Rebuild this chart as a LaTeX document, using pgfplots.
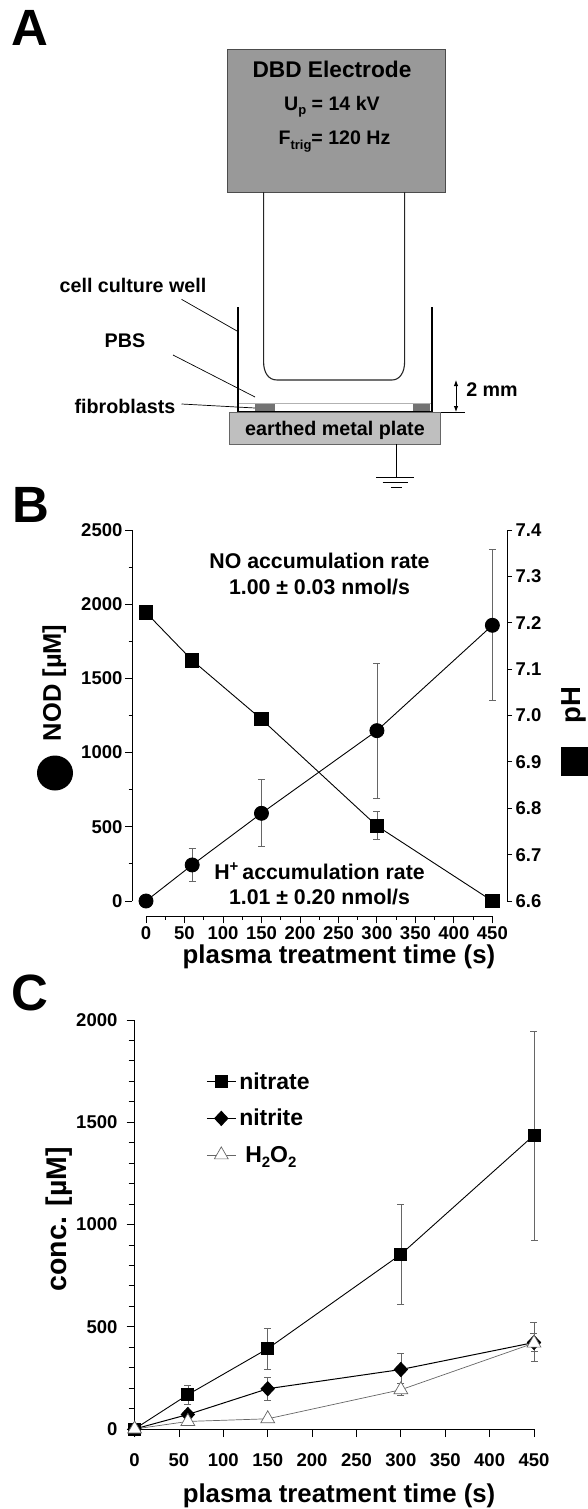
\documentclass[border=0pt]{standalone}
\usepackage{fontspec}
\setmainfont{Liberation Sans}
\usepackage{pgfplots}
\pgfplotsset{compat=1.18}
\usepackage{pgfplotstable}
\usetikzlibrary{arrows.meta}
\newcommand{\fs}[1]{\fontsize{#1}{#1}\selectfont}
\newcommand{\sub}[3][13]{\raisebox{-#2pt}{\fs{#1}#3}}
\pgfplotstableread{
x y ep em
0 0 0 0
60 243 112 113
150 591 229 221
300 1148 454 454
450 1858 512 508
}\nod
\pgfplotstableread{
x y ep em
0 7.222 0 0
60 7.119 0 0
150 6.992 0 0
300 6.762 0.032 0.029
450 6.6 0 0
}\phdata
\pgfplotstableread{
x y ep em
0 0 0 0
60 168 46 47
150 393 99 100
300 854 243 244
450 1437 509 514
}\nitrate
\pgfplotstableread{
x y ep em
0 0 0 0
60 71 20 20
150 197 56 57
300 291 80 69
450 423 99 91
}\nitrite
\pgfplotstableread{
x y ep em
0 0 0 0
60 37 8 8
150 50 12 12
300 192 30 29
450 420 47 38
}\hhoo
\pgfplotsset{
  base/.style={
    scale only axis, clip=false,
    axis line style={draw=none},
    tick align=outside,
    tick style={black,line width=0.9pt},
    /pgf/number format/assume math mode=true,
    /pgf/number format/set thousands separator={},
    tick label style={font=\bfseries\fs{18.5},inner sep=0pt},
  },
  ebar/.style={
    error bars/.cd, y dir=both, y explicit,
    error bar style={black!60,line width=0.7pt},
    error mark options={rotate=90,mark size=3.5pt,black!60,line width=0.7pt},
  },
}
\begin{document}
\begin{tikzpicture}
\path[use as bounding box] (0,0) rectangle (588pt,-1509pt);
\clip (0,0) rectangle (588pt,-1509pt);
%% Panel A
\begin{scope}[x=1pt,y=-1pt]
\node[font=\bfseries\fs{51}] at (29.5,27.5) {A};
\node[font=\bfseries\fs{51}] at (31,504.5) {B};
\node[font=\bfseries\fs{51}] at (30,993) {C};
\draw[fill=black!40,draw=black!70,line width=0.9pt] (227.2,49.7) rectangle (445.8,192);
\draw[line width=1.1pt,black!85] (263.6,192) -- (263.6,362) .. controls (263.6,372) and (268,380) .. (277,380)
  -- (392,380) .. controls (400,380) and (404.6,372) .. (404.6,362) -- (404.6,192);
\draw[black!30,line width=0.8pt] (238,403) -- (431,403);
\fill[black!55] (255,403.5) rectangle (274.5,411);
\fill[black!55] (412.5,403.5) rectangle (430,411);
\draw[line width=0.7pt] (237.7,412) -- (465,412);
\draw[line width=1.5pt] (237.7,411.5) -- (431,411.5);
\draw[line width=1.8pt] (237.7,307) -- (237.7,412);
\draw[line width=1.8pt] (431.6,307) -- (431.6,412);
\draw[fill=black!25,draw=black!60,line width=0.8pt] (229.5,412.7) rectangle (440,444.3);
\draw[line width=0.9pt] (396.4,444.3) -- (396.4,477);
\draw[line width=0.9pt] (376,477.5) -- (413.6,477.5);
\draw[line width=0.9pt] (382.5,482.5) -- (407.6,482.5);
\draw[line width=0.9pt] (391,487.5) -- (402,487.5);
\draw[line width=0.7pt] (181.5,299.3) -- (237,331);
\draw[line width=0.7pt] (173,355) -- (255,397);
\draw[line width=0.7pt] (181.5,404) -- (255,408);
\draw[{Latex[length=6pt]}-{Latex[length=6pt]},line width=0.9pt] (456,380) -- (456,412);
\node[font=\bfseries\fs{22.7}] at (332,69) {DBD Electrode};
\node[font=\bfseries\fs{19.6}] at (332,107) {U\sub{4}{p} = 14 kV};
\node[font=\bfseries\fs{19.6}] at (334.5,142) {F\sub{5}{trig}= 120 Hz};
\node[font=\bfseries\fs{19.7}] at (133,285) {cell culture well};
\node[font=\bfseries\fs{19.7}] at (125,341) {PBS};
\node[font=\bfseries\fs{19.7}] at (125,406) {fibroblasts};
\node[font=\bfseries\fs{19.7}] at (335,430) {earthed metal plate};
\node[font=\bfseries\fs{19.7}] at (492,390) {2 mm};
\fill (55,773) ellipse (18 and 17.5);
\fill (561,747) rectangle (600,776);
\end{scope}
%% Panel B, left axis
\begin{axis}[base,
  at={(132pt,-916pt)},anchor=south west,width=375pt,height=386pt,
  xmin=-18.2,xmax=469,ymin=-101.1,ymax=2500,
  axis x line*=bottom,axis y line*=left,
  xtick={0,50,...,450},ytick={0,500,...,2500},
  minor x tick num=1,minor y tick num=1,
  major tick length=7pt,minor tick length=3.5pt,
  xlabel={plasma treatment time (s)},ylabel={NOD [µM]},
  every axis x label/.style={at={(rel axis cs:0.552,-0.106)},anchor=center,font=\bfseries\fs{25.8}},
  every axis y label/.style={at={(rel axis cs:-0.207,0.604)},anchor=center,rotate=90,font=\bfseries\fs{25.5}},
  xticklabel style={yshift=-3.5pt},
  yticklabel style={xshift=-2.4pt},
]
\draw[line width=1pt] (axis cs:-18.2,0) -- (axis cs:-18.2,2500);
\draw[line width=1pt] (axis cs:0,-101.1) -- (axis cs:450,-101.1);
\addplot[black,line width=0.9pt,mark=*,mark size=7pt,mark options={fill=black},
  ebar] table[x=x,y=y,y error plus=ep,y error minus=em] {\nod};
\end{axis}
%% Panel B, right axis
\begin{axis}[base,
  at={(132pt,-916pt)},anchor=south west,width=375pt,height=386pt,
  xmin=-18.2,xmax=469,ymin=6.5677,ymax=7.4,
  axis x line=none,axis y line*=right,
  ytick={6.6,6.7,...,7.4},
  major tick length=5pt,
  /pgf/number format/fixed,/pgf/number format/fixed zerofill,/pgf/number format/precision=1,
  ylabel={pH},
  every axis y label/.style={at={(rel axis cs:1.179,0.547)},anchor=center,rotate=90,font=\bfseries\fs{27.5}},
  yticklabel style={xshift=3.5pt},
]
\draw[line width=1pt] (axis cs:469,6.6) -- (axis cs:469,7.4);
\addplot[black,line width=0.9pt,mark=square*,mark size=6.7pt,mark options={fill=black},
  ebar] table[x=x,y=y,y error plus=ep,y error minus=em] {\phdata};
\end{axis}
\begin{scope}[x=1pt,y=-1pt]
\node[font=\bfseries\fs{21.3}] at (319.5,561) {NO accumulation rate};
\node[font=\bfseries\fs{21.3}] at (319.5,587) {1.00 ± 0.03 nmol/s};
\node[font=\bfseries\fs{21.3}] at (319.5,871) {H\textsuperscript{+}\,accumulation rate};
\node[font=\bfseries\fs{21.3}] at (319.5,897) {1.01 ± 0.20 nmol/s};
\end{scope}
%% Panel C
\begin{axis}[base,
  at={(134.6pt,-1429pt)},anchor=south west,width=399.4pt,height=409pt,
  xmin=0,xmax=450,ymin=0,ymax=2000,
  axis x line*=bottom,axis y line*=left,
  xtick={0,50,...,450},ytick={0,500,...,2000},
  minor y tick num=4,
  major tick length=8pt,minor tick length=6pt,
  xlabel={plasma treatment time (s)},ylabel={conc. [µM]},
  every axis x label/.style={at={(rel axis cs:0.512,-0.164)},anchor=center,font=\bfseries\fs{25.8}},
  every axis y label/.style={at={(rel axis cs:-0.189,0.513)},anchor=center,rotate=90,font=\bfseries\fs{28.5}},
  xticklabel style={yshift=-16pt},
  yticklabel style={xshift=-9pt},
  legend style={at={(rel axis cs:0.179,0.870)},anchor=north west,draw=none,fill=none,inner sep=0pt,
    row sep=0pt,column sep=3pt,
    nodes={font=\bfseries\fs{23},text height=16pt,text depth=20.5pt,inner sep=0pt,anchor=base west}},
  legend cell align=left,
  legend image code/.code={
    \draw[mark repeat=2,mark phase=2,#1] plot coordinates {(0pt,7.5pt) (14.5pt,7.5pt) (29pt,7.5pt)};
  },
]
\draw[line width=1pt] (axis cs:0,0) -- (axis cs:0,2000);
\draw[line width=1pt] (axis cs:0,0) -- (axis cs:450,0);
\addplot[black,line width=0.9pt,mark=square*,mark size=6pt,mark options={fill=black},
  ebar] table[x=x,y=y,y error plus=ep,y error minus=em] {\nitrate};
\addlegendentry{nitrate}
\addplot[black,line width=1pt,mark=diamond*,mark size=7pt,mark options={fill=black,xscale=1.25},
  ebar] table[x=x,y=y,y error plus=ep,y error minus=em] {\nitrite};
\addlegendentry{nitrite}
\addplot[black!60,line width=0.7pt,mark=triangle*,mark size=8pt,mark options={fill=white,draw=black!60},
  ebar] table[x=x,y=y,y error plus=ep,y error minus=em] {\hhoo};
\addlegendentry{\hspace*{6pt}H\sub[15]{5}{2}O\sub[15]{5}{2}}
\end{axis}
\end{tikzpicture}
\end{document}
